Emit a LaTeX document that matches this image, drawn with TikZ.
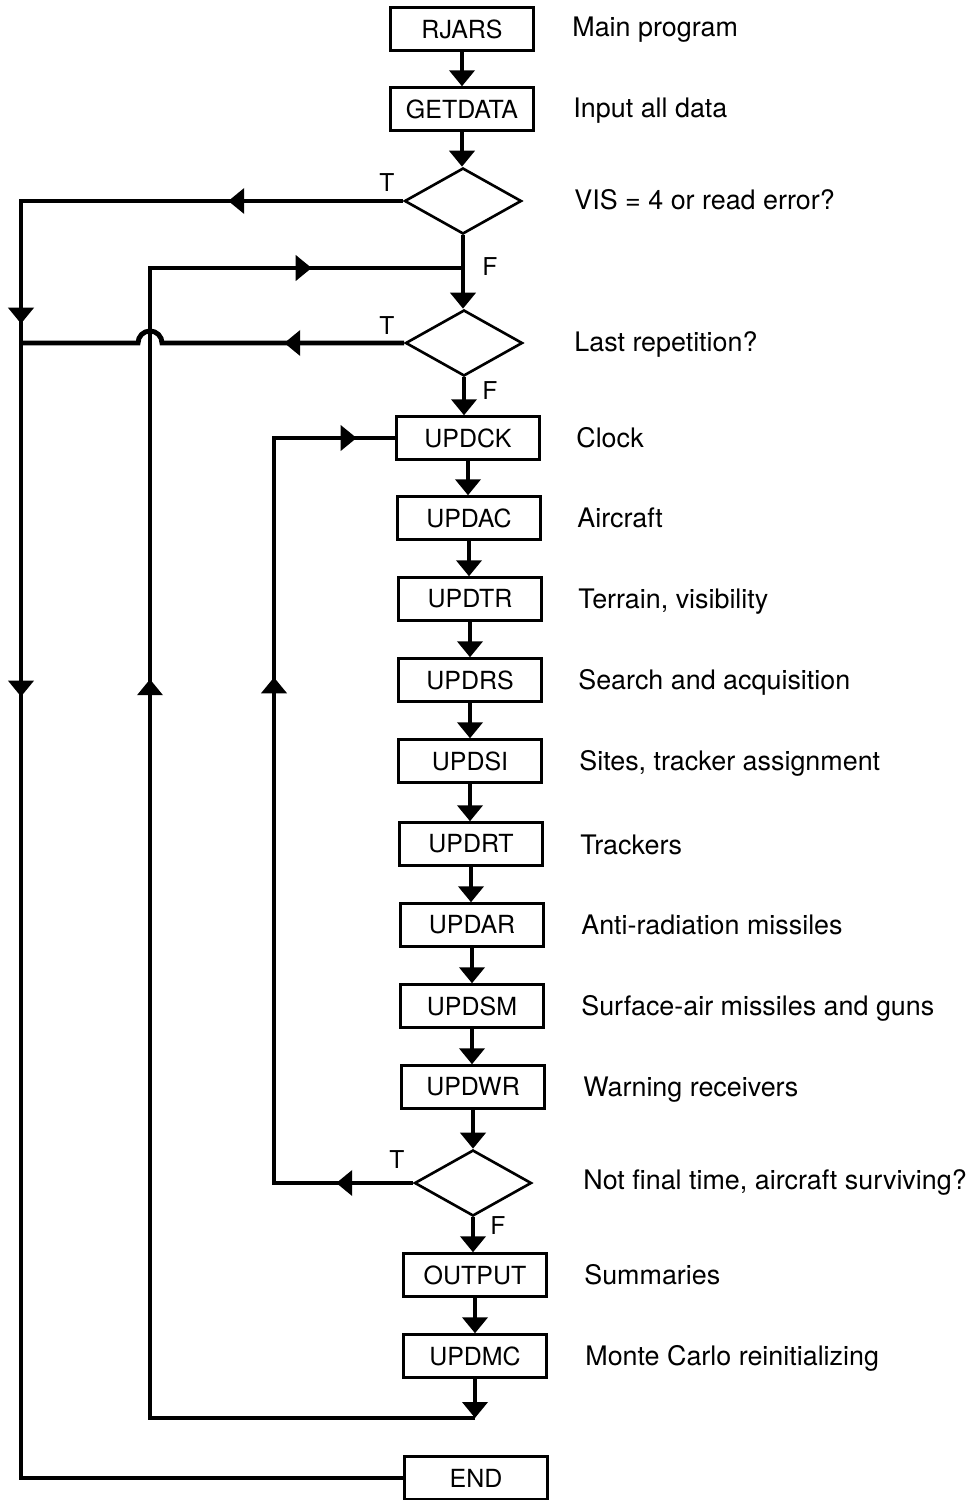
\documentclass[tikz,border=0pt]{standalone}
\usepackage{fontspec}
\setmainfont{TeX Gyre Heros}
\usetikzlibrary{arrows.meta,shapes.geometric,decorations.markings}
\begin{document}
\begin{tikzpicture}[x=0.02cm,y=-0.02cm,
  flow/.style={line width=2.8pt},
  tip/.style={-{Triangle[width=0.5cm,length=0.32cm]}},
  headat/.style={postaction={decorate,decoration={markings,
      mark=at position #1 with {\arrow{Triangle[width=0.5cm,length=0.32cm]}}}}},
  proc/.style={draw,line width=1.4pt,minimum width=2.86cm,minimum height=0.86cm,
      inner sep=0pt,font=\fontsize{14.2}{16}\selectfont},
  test/.style={draw,diamond,line width=1.5pt,minimum width=2.34cm,
      minimum height=1.32cm,inner sep=0pt},
  note/.style={anchor=base west,inner sep=0pt,font=\fontsize{15.3}{18}\selectfont},
  branch/.style={inner sep=0pt,font=\fontsize{14}{16}\selectfont},
]
\useasboundingbox (0,0) rectangle (971,1500);

% program blocks and tests
\node[proc] (rjars)   at (462,29)   {RJARS};
\node[proc] (getdata) at (462,109)  {GETDATA};
\node[test] (d1)      at (463,201)  {};
\node[test] (d2)      at (464,343)  {};
\node[proc] (updck)   at (468,438)  {UPDCK};
\node[proc] (updac)   at (469,518)  {UPDAC};
\node[proc] (updtr)   at (470,599)  {UPDTR};
\node[proc] (updrs)   at (470,680)  {UPDRS};
\node[proc] (updsi)   at (470,761)  {UPDSI};
\node[proc] (updrt)   at (471,844)  {UPDRT};
\node[proc] (updar)   at (472,925)  {UPDAR};
\node[proc] (updsm)   at (472,1006) {UPDSM};
\node[proc] (updwr)   at (473,1087) {UPDWR};
\node[test] (d3)      at (473,1183) {};
\node[proc] (output)  at (475,1275) {OUTPUT};
\node[proc] (updmc)   at (475,1356) {UPDMC};
\node[proc] (endbox)  at (476,1478) {END};

% descriptions
\node[note] (t1)  at (572,37)   {Main program};
\node[note] (t2)  at (573,118)  {Input all data};
\node[note] (t3)  at (574,210)  {VIS = 4 or read error?};
\node[note] (t4)  at (574,352)  {Last repetition?};
\node[note] (t5)  at (576,447)  {Clock};
\node[note] (t6)  at (577,527)  {Aircraft};
\node[note] (t7)  at (578,608)  {Terrain, visibility};
\node[note] (t8)  at (578,689)  {Search and acquisition};
\node[note] (t9)  at (579,770)  {Sites, tracker assignment};
\node[note] (t10) at (580,854)  {Trackers};
\node[note] (t11) at (581,934)  {Anti-radiation missiles};
\node[note] (t12) at (581,1015) {Surface-air missiles and guns};
\node[note] (t13) at (583,1096) {Warning receivers};
\node[note] (t14) at (583,1189) {Not final time, aircraft surviving?};
\node[note] (t15) at (584,1284) {Summaries};
\node[note] (t16) at (585,1365) {Monte Carlo reinitializing};

% branch labels
\node[branch] (bt1) at (387,183)  {T};
\node[branch] (bf1) at (490,267)  {F};
\node[branch] (bt2) at (387,326)  {T};
\node[branch] (bf2) at (490,391)  {F};
\node[branch] (bt3) at (397,1160) {T};
\node[branch] (bf3) at (498,1226) {F};

% main sequence
\draw[flow,tip] (rjars.south)   -- (rjars.south |- getdata.north);
\draw[flow,tip] (getdata.south) -- (getdata.south |- d1.north);
\draw[flow,tip] (d1.south)      -- (d1.south |- d2.north);
\draw[flow,tip] (d2.south)      -- (d2.south |- updck.north);
\draw[flow,tip] (updck.south)   -- (updck.south |- updac.north);
\draw[flow,tip] (updac.south)   -- (updac.south |- updtr.north);
\draw[flow,tip] (updtr.south)   -- (updtr.south |- updrs.north);
\draw[flow,tip] (updrs.south)   -- (updrs.south |- updsi.north);
\draw[flow,tip] (updsi.south)   -- (updsi.south |- updrt.north);
\draw[flow,tip] (updrt.south)   -- (updrt.south |- updar.north);
\draw[flow,tip] (updar.south)   -- (updar.south |- updsm.north);
\draw[flow,tip] (updsm.south)   -- (updsm.south |- updwr.north);
\draw[flow,tip] (updwr.south)   -- (updwr.south |- d3.north);
\draw[flow,tip] (d3.south)      -- (d3.south |- output.north);
\draw[flow,tip] (output.south)  -- (output.south |- updmc.north);

% exit path to END
\coordinate (a1) at (21,201);
\coordinate (a2) at (21,1478);
\draw[flow,headat=3.5cm,headat=10.1cm,headat=17.56cm]
  (d1.west) -- (a1) -- (a2) -- (endbox.west);

% last repetition: jumps over the repetition loop
\coordinate (jr) at (162,343);
\coordinate (a3) at (21,343);
\draw[flow,headat=2.4cm]
  (d2.west) -- (jr) arc[start angle=0,end angle=180,radius=0.24cm] -- (a3);

% Monte Carlo repetition loop
\coordinate (b1) at (475,1418);
\coordinate (b2) at (150,1418);
\coordinate (b3) at (150,268);
\coordinate (j1) at (463,268);
\draw[flow,tip] (updmc.south) -- (b1);
\draw[flow,headat=21.28cm,headat=32.74cm] (b1) -- (b2) -- (b3) -- (j1);

% time step loop
\coordinate (c1) at (274,1183);
\coordinate (c2) at (274,438);
\draw[flow,headat=1.54cm,headat=12.9cm,headat=19.34cm]
  (d3.west) -- (c1) -- (c2) -- (updck.west);
\end{tikzpicture}
\end{document}
